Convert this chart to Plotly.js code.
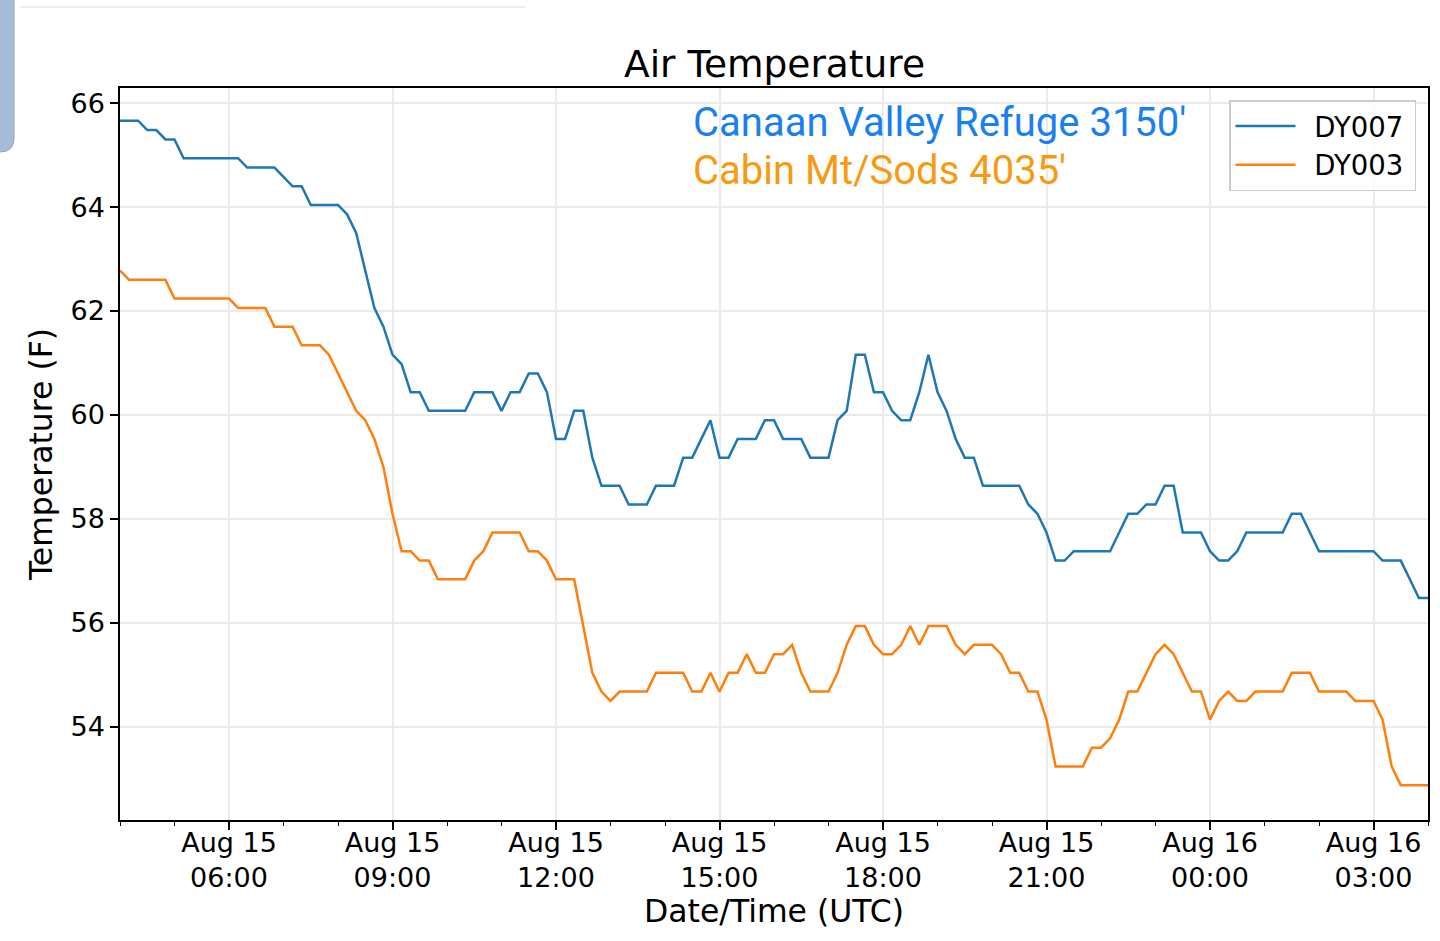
<!DOCTYPE html>
<html>
<head>
<meta charset="utf-8">
<script src="https://cdn.plot.ly/plotly-3.0.1.min.js"></script>
<style>
  html, body { margin: 0; padding: 0; background: #ffffff; }
  #chart { width: 1440px; height: 941px; }
</style>
</head>
<body>
<div id="chart"></div>
<script>
// readings every 10 minutes, Aug 15 04:00 UTC to Aug 16 04:00 UTC
const startTime = Date.UTC(2019, 7, 15, 4, 0);
const stepMinutes = 10;

// DY007 - Canaan Valley Refuge (F)
const dy007 = [
    65.66, 65.66, 65.66, 65.48, 65.48, 65.30, 65.30, 64.94, 64.94, 64.94,
    64.94, 64.94, 64.94, 64.94, 64.76, 64.76, 64.76, 64.76, 64.58, 64.40,
    64.40, 64.04, 64.04, 64.04, 64.04, 63.86, 63.50, 62.78, 62.06, 61.70,
    61.16, 60.98, 60.44, 60.44, 60.08, 60.08, 60.08, 60.08, 60.08, 60.44,
    60.44, 60.44, 60.08, 60.44, 60.44, 60.80, 60.80, 60.44, 59.54, 59.54,
    60.08, 60.08, 59.18, 58.64, 58.64, 58.64, 58.28, 58.28, 58.28, 58.64,
    58.64, 58.64, 59.18, 59.18, 59.54, 59.90, 59.18, 59.18, 59.54, 59.54,
    59.54, 59.90, 59.90, 59.54, 59.54, 59.54, 59.18, 59.18, 59.18, 59.90,
    60.08, 61.16, 61.16, 60.44, 60.44, 60.08, 59.90, 59.90, 60.44, 61.16,
    60.44, 60.08, 59.54, 59.18, 59.18, 58.64, 58.64, 58.64, 58.64, 58.64,
    58.28, 58.10, 57.74, 57.20, 57.20, 57.38, 57.38, 57.38, 57.38, 57.38,
    57.74, 58.10, 58.10, 58.28, 58.28, 58.64, 58.64, 57.74, 57.74, 57.74,
    57.38, 57.20, 57.20, 57.38, 57.74, 57.74, 57.74, 57.74, 57.74, 58.10,
    58.10, 57.74, 57.38, 57.38, 57.38, 57.38, 57.38, 57.38, 57.38, 57.20,
    57.20, 57.20, 56.84, 56.48, 56.48
];

// DY003 - Cabin Mt/Sods (F)
const dy003 = [
    62.78, 62.60, 62.60, 62.60, 62.60, 62.60, 62.24, 62.24, 62.24, 62.24,
    62.24, 62.24, 62.24, 62.06, 62.06, 62.06, 62.06, 61.70, 61.70, 61.70,
    61.34, 61.34, 61.34, 61.16, 60.80, 60.44, 60.08, 59.90, 59.54, 59.00,
    58.10, 57.38, 57.38, 57.20, 57.20, 56.84, 56.84, 56.84, 56.84, 57.20,
    57.38, 57.74, 57.74, 57.74, 57.74, 57.38, 57.38, 57.20, 56.84, 56.84,
    56.84, 55.94, 55.04, 54.68, 54.50, 54.68, 54.68, 54.68, 54.68, 55.04,
    55.04, 55.04, 55.04, 54.68, 54.68, 55.04, 54.68, 55.04, 55.04, 55.40,
    55.04, 55.04, 55.40, 55.40, 55.58, 55.04, 54.68, 54.68, 54.68, 55.04,
    55.58, 55.94, 55.94, 55.58, 55.40, 55.40, 55.58, 55.94, 55.58, 55.94,
    55.94, 55.94, 55.58, 55.40, 55.58, 55.58, 55.58, 55.40, 55.04, 55.04,
    54.68, 54.68, 54.14, 53.24, 53.24, 53.24, 53.24, 53.60, 53.60, 53.78,
    54.14, 54.68, 54.68, 55.04, 55.40, 55.58, 55.40, 55.04, 54.68, 54.68,
    54.14, 54.50, 54.68, 54.50, 54.50, 54.68, 54.68, 54.68, 54.68, 55.04,
    55.04, 55.04, 54.68, 54.68, 54.68, 54.68, 54.50, 54.50, 54.50, 54.14,
    53.24, 52.88, 52.88, 52.88, 52.88
];

const tickTimes = [
    '2019-08-15 06:00', '2019-08-15 09:00', '2019-08-15 12:00', '2019-08-15 15:00',
    '2019-08-15 18:00', '2019-08-15 21:00', '2019-08-16 00:00', '2019-08-16 03:00'
];
const tickLabels = [
    'Aug 15<br>06:00', 'Aug 15<br>09:00', 'Aug 15<br>12:00', 'Aug 15<br>15:00',
    'Aug 15<br>18:00', 'Aug 15<br>21:00', 'Aug 16<br>00:00', 'Aug 16<br>03:00'
];
const yTicks = [54, 56, 58, 60, 62, 64, 66];

const times = dy007.map((_, i) => new Date(startTime + i * stepMinutes * 60000).toISOString());

const font = 'DejaVu Sans, sans-serif';

// pixel -> paper helpers for the screenshot decorations
const plotLeft = 120, plotRight = 1428, plotTop = 88, plotBottom = 820;
const px = (x) => (x - plotLeft) / (plotRight - plotLeft);
const py = (y) => (plotBottom - y) / (plotBottom - plotTop);

const traces = [
    {
        x: times, y: dy007, name: '\u2002DY007\u2009',
        type: 'scatter', mode: 'lines',
        line: { color: '#1f77b4', width: 2.5 }
    },
    {
        x: times, y: dy003, name: '\u2002DY003\u2009',
        type: 'scatter', mode: 'lines',
        line: { color: '#ff7f0e', width: 2.5 }
    }
];

const layout = {
    width: 1440,
    height: 941,
    paper_bgcolor: '#ffffff',
    plot_bgcolor: '#ffffff',
    margin: { l: plotLeft, r: 1440 - plotRight, t: plotTop, b: 941 - plotBottom },
    font: { family: font, size: 27, color: '#000000' },
    title: {
        text: 'Air Temperature',
        font: { family: font, size: 37.5, color: '#000000' },
        x: px(774.5), xref: 'paper', xanchor: 'center',
        y: 1 - 64 / 941, yref: 'container', yanchor: 'middle'
    },
    xaxis: {
        type: 'date',
        range: [times[0], times[times.length - 1]],
        tickvals: tickTimes,
        ticktext: tickLabels,
        ticks: 'outside', ticklen: 8, tickwidth: 1.5, tickcolor: '#000000',
        ticklabelstandoff: -10,
        tickfont: { family: font, size: 27, color: '#000000' },
        showline: true, linecolor: '#000000', linewidth: 1.5, mirror: true,
        showgrid: true, gridcolor: '#ebebeb', gridwidth: 1.5,
        zeroline: false,
        minor: { dtick: 3600000, ticks: 'outside', ticklen: 4, tickwidth: 1.2, tickcolor: '#000000', showgrid: false },
        title: { text: 'Date/Time (UTC)', font: { family: font, size: 31.5, color: '#000000' }, standoff: 8 }
    },
    yaxis: {
        range: [52.21, 66.29],
        tickvals: yTicks,
        ticks: 'outside', ticklen: 8, tickwidth: 1.5, tickcolor: '#000000',
        tickfont: { family: font, size: 27, color: '#000000' },
        showline: true, linecolor: '#000000', linewidth: 1.5, mirror: true,
        showgrid: true, gridcolor: '#ebebeb', gridwidth: 1.5,
        zeroline: false,
        title: { text: 'Temperature (F)', font: { family: font, size: 31.5, color: '#000000' }, standoff: 8 }
    },
    legend: {
        x: px(1416), xanchor: 'right',
        y: py(100), yanchor: 'top',
        bgcolor: 'rgba(255,255,255,0.85)',
        bordercolor: '#cccccc', borderwidth: 1.5,
        font: { family: font, size: 27.5, color: '#000000' },
        itemwidth: 60
    },
    annotations: [
        {
            text: "Canaan Valley Refuge 3150'",
            xref: 'paper', yref: 'paper',
            x: px(691), xanchor: 'left',
            y: py(122), yanchor: 'middle',
            showarrow: false,
            font: { family: 'Roboto, sans-serif', size: 40, color: '#1a7ff0' }
        },
        {
            text: "Cabin Mt/Sods 4035'",
            xref: 'paper', yref: 'paper',
            x: px(691), xanchor: 'left',
            y: py(170), yanchor: 'middle',
            showarrow: false,
            font: { family: 'Roboto, sans-serif', size: 40, color: '#f79a10' }
        }
    ],
    shapes: [
        // bits of the phone screen around the chart
        {
            type: 'line', xref: 'paper', yref: 'paper',
            x0: px(20), x1: px(525), y0: py(7), y1: py(7),
            line: { color: '#e8e8e8', width: 1.5 }
        },
        {
            type: 'path', xref: 'paper', yref: 'paper',
            path: 'M ' + px(-4) + ',' + py(-4) +
                  ' L ' + px(14) + ',' + py(-4) +
                  ' L ' + px(14) + ',' + py(138) +
                  ' Q ' + px(14) + ',' + py(152) + ' ' + px(0) + ',' + py(152) +
                  ' L ' + px(-4) + ',' + py(152) + ' Z',
            fillcolor: '#a5bdd6', line: { color: '#8fa7c0', width: 1 }
        }
    ],
    showlegend: true
};

Plotly.newPlot('chart', traces, layout, { displayModeBar: false, responsive: false });
</script>
</body>
</html>
